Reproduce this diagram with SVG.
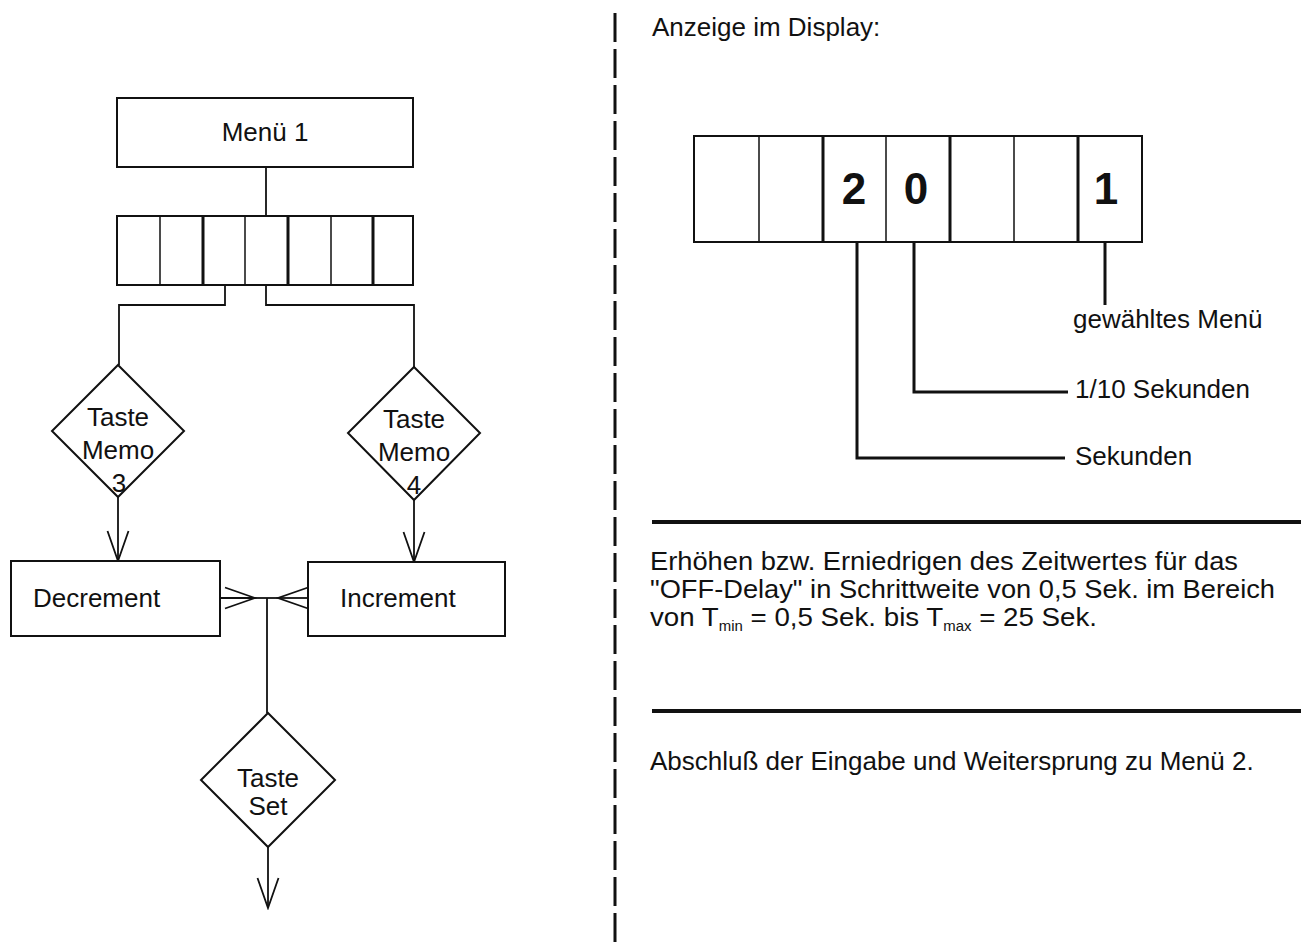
<svg xmlns="http://www.w3.org/2000/svg" width="1301" height="947" viewBox="0 0 1301 947">
  <style>
    text { font-family: "Liberation Sans", Arial, sans-serif; fill: #111; }
    .t { font-size: 26px; }
    .p { font-size: 26px; }
    .sub { font-size: 14px; }
    .digit { font-size: 44px; font-weight: bold; text-anchor: middle; }
    .c { text-anchor: middle; }
    .box { fill: #fff; stroke: #111; stroke-width: 2; }
    .thin { stroke: #111; stroke-width: 1.5; fill: none; }
    .thick { stroke: #111; stroke-width: 3; fill: none; }
    .wire { stroke: #111; stroke-width: 1.8; fill: none; }
    .lead { stroke: #111; stroke-width: 3; fill: none; }
    .rule { stroke: #111; stroke-width: 4; fill: none; }
  </style>
  <defs>
    <marker id="vee" viewBox="-32 -12 34 24" refX="0" refY="0" markerWidth="34" markerHeight="24" markerUnits="userSpaceOnUse" orient="auto">
      <path d="M-30,-10.5 L0,0 L-30,10.5" fill="none" stroke="#111" stroke-width="1.8"/>
    </marker>
  </defs>
  <rect width="1301" height="947" fill="#fff"/>

  <!-- flow chart, left column -->
  <g id="connectors">
    <path class="wire" d="M266,167 V216"/>
    <path class="wire" d="M225,285 V305 H119 V365"/>
    <path class="wire" d="M266,285 V305 H414 V367"/>
    <path class="wire" d="M118,497 V561" marker-end="url(#vee)"/>
    <path class="wire" d="M414,500 V562" marker-end="url(#vee)"/>
    <path class="wire" d="M220,598 H255" marker-end="url(#vee)"/>
    <path class="wire" d="M308,598 H278" marker-end="url(#vee)"/>
    <path class="wire" d="M255,598 H278"/>
    <path class="wire" d="M267,598 V713"/>
    <path class="wire" d="M268,847 V908" marker-end="url(#vee)"/>
  </g>

  <g id="menu1">
    <rect class="box" x="117" y="98" width="296" height="69"/>
    <text class="t c" x="265" y="141">Menü 1</text>
  </g>

  <g id="display-small">
    <rect class="box" x="117" y="216" width="296" height="69"/>
    <path class="thin" d="M160,216 V285 M245,216 V285 M331,216 V285"/>
    <path class="thick" d="M203,216 V285 M288,216 V285 M373,216 V285"/>
  </g>

  <g id="memo3">
    <polygon class="box" points="118,365 184,431 118,497 52,431"/>
    <text class="t c" x="118" y="426">Taste</text>
    <text class="t c" x="118" y="459">Memo</text>
    <text class="t c" x="119" y="492">3</text>
  </g>

  <g id="memo4">
    <polygon class="box" points="414,367 480,433 414,500 348,433"/>
    <text class="t c" x="414" y="428">Taste</text>
    <text class="t c" x="414" y="461">Memo</text>
    <text class="t c" x="414" y="494">4</text>
  </g>

  <g id="decrement">
    <rect class="box" x="11" y="561" width="209" height="75"/>
    <text class="t" x="33" y="607">Decrement</text>
  </g>

  <g id="increment">
    <rect class="box" x="308" y="562" width="197" height="74"/>
    <text class="t" x="340" y="607">Increment</text>
  </g>

  <g id="taste-set">
    <polygon class="box" points="268,713 335,780 268,847 201,780"/>
    <text class="t c" x="268" y="787">Taste</text>
    <text class="t c" x="268" y="815">Set</text>
  </g>

  <!-- column divider -->
  <line x1="615" y1="13" x2="615" y2="947" stroke="#111" stroke-width="3" stroke-dasharray="29 7"/>

  <!-- display explanation, right column -->
  <g id="heading">
    <text class="t" x="652" y="36">Anzeige im Display:</text>
  </g>

  <g id="display-large">
    <rect class="box" x="694" y="136" width="448" height="106"/>
    <path class="thin" d="M759,136 V242 M886,136 V242 M1014,136 V242"/>
    <path class="thick" d="M823,136 V242 M950,136 V242 M1078,136 V242"/>
    <text class="digit" x="854" y="204">2</text>
    <text class="digit" x="916" y="204">0</text>
    <text class="digit" x="1106" y="204">1</text>
  </g>

  <g id="leaders">
    <path class="lead" d="M1105,242 V305"/>
    <path class="lead" d="M914,242 V392 H1068"/>
    <path class="lead" d="M857,242 V458 H1065"/>
    <text class="t" x="1073" y="328">gewähltes Menü</text>
    <text class="t" x="1075" y="398">1/10 Sekunden</text>
    <text class="t" x="1075" y="465">Sekunden</text>
  </g>

  <g id="increment-text">
    <line class="rule" x1="652" y1="522" x2="1301" y2="522"/>
    <text class="p" x="650" y="570" textLength="588" lengthAdjust="spacingAndGlyphs">Erhöhen bzw. Erniedrigen des Zeitwertes für das</text>
    <text class="p" x="650" y="598" textLength="625" lengthAdjust="spacingAndGlyphs">"OFF-Delay" in Schrittweite von 0,5 Sek. im Bereich</text>
    <text class="p" x="650" y="626" textLength="447" lengthAdjust="spacingAndGlyphs">von T<tspan class="sub" dy="5">min</tspan><tspan dy="-5"> = 0,5 Sek. bis T</tspan><tspan class="sub" dy="5">max</tspan><tspan dy="-5"> = 25 Sek.</tspan></text>
  </g>

  <g id="set-text">
    <line class="rule" x1="652" y1="711" x2="1301" y2="711"/>
    <text class="t" x="650" y="770">Abschluß der Eingabe und Weitersprung zu Menü 2.</text>
  </g>
</svg>
